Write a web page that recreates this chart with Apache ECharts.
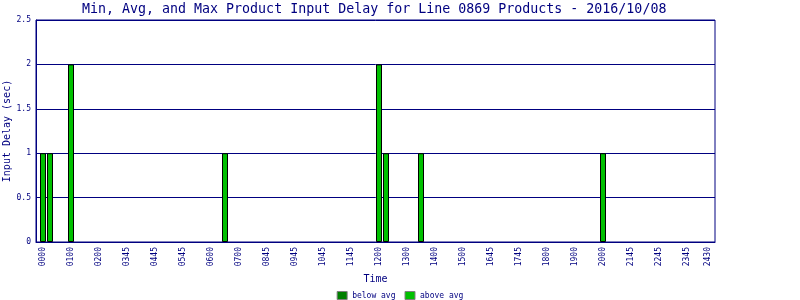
<!DOCTYPE html>
<html>
<head>
<meta charset="utf-8">
<script src="https://cdn.jsdelivr.net/npm/echarts@6/dist/echarts.min.js"></script>
<style>html,body{margin:0;padding:0;background:#fff}#c{width:800px;height:300px}</style>
</head>
<body>
<div id="c"></div>
<script>
// 96 fifteen-minute slots, index 0..95
const slotCount = 96;
// tick labels and the slot each one sits on
const tickLabels = ['0000','0100','0200','0345','0445','0545','0600','0700','0845','0945','1045','1145','1200','1300','1400','1500','1645','1745','1800','1900','2000','2145','2245','2345','2430'];
const tickSlots = [0,4,8,12,16,20,24,28,32,36,40,44,48,52,56,60,64,68,72,76,80,84,88,92,95];
// bars: slot index and delay (sec)
const aboveAvgSlots = [0,1,4,26,48,49,54,80];
const aboveAvgValues = [1,1,2,1,2,1,1,1];
const belowAvgSlots = [];
const belowAvgValues = [];
const yTicks = [0,0.5,1,1.5,2,2.5];

// category axis: one empty padding category each side
const cats = ['<pad0>'];
for (let i = 0; i < slotCount; i++) {
  const t = tickSlots.indexOf(i);
  cats.push(t >= 0 ? tickLabels[t] : '#' + i);
}
cats.push('<pad1>');
function seriesData(slots, vals) {
  const d = new Array(cats.length).fill(null);
  slots.forEach((s, i) => { d[s + 1] = vals[i]; });
  return d;
}
const NAVY = '#000080';
const FONT = 'DejaVu Sans Mono';
const chart = echarts.init(document.getElementById('c'), null, {renderer: 'canvas'});
chart.setOption({
  animation: false,
  backgroundColor: '#fff',
  title: {
    text: 'Min, Avg, and Max Product Input Delay for Line 0869 Products - 2016/10/08',
    left: 82, top: 3, padding: 0,
    textStyle: {color: NAVY, fontFamily: FONT, fontSize: 13.3, fontWeight: 'normal'}
  },
  legend: {
    top: 286, left: 'center',
    itemWidth: 10, itemHeight: 8, itemGap: 9,
    icon: 'rect',
    itemStyle: {borderColor: '#808080', borderWidth: 1},
    textStyle: {color: NAVY, fontFamily: FONT, fontSize: 8},
    data: ['below avg', 'above avg']
  },
  grid: {left: 36, right: 85, top: 20, bottom: 58, show: true, borderColor: NAVY, borderWidth: 1, backgroundColor: '#fff', containLabel: false, outerBoundsMode: 'none'},
  xAxis: {
    type: 'category', data: cats, boundaryGap: false,
    name: 'Time', nameLocation: 'middle', nameGap: 32, nameMoveOverlap: false,
    nameTextStyle: {color: NAVY, fontFamily: FONT, fontSize: 10},
    axisLine: {lineStyle: {color: NAVY}},
    axisTick: {show: false},
    splitLine: {show: false},
    axisLabel: {
      rotate: 90, margin: 5, color: NAVY, fontFamily: FONT, fontSize: 8,
      interval: (idx, val) => tickLabels.indexOf(val) >= 0,
      formatter: v => tickLabels.indexOf(v) >= 0 ? v : ''
    }
  },
  yAxis: {
    type: 'value', min: yTicks[0], max: yTicks[yTicks.length - 1], interval: 0.5,
    name: 'Input Delay (sec)', nameLocation: 'middle', nameGap: 24, nameMoveOverlap: false,
    nameTextStyle: {color: NAVY, fontFamily: FONT, fontSize: 10},
    axisLine: {show: true, lineStyle: {color: NAVY}},
    axisTick: {show: false},
    splitLine: {lineStyle: {color: NAVY, width: 1}},
    axisLabel: {color: NAVY, fontFamily: FONT, fontSize: 8, margin: 5}
  },
  series: [
    {name: 'below avg', type: 'bar', stack: 's', barWidth: 6, data: seriesData(belowAvgSlots, belowAvgValues),
     itemStyle: {color: '#008000', borderColor: '#000', borderWidth: 1}},
    {name: 'above avg', type: 'bar', stack: 's', barWidth: 6, data: seriesData(aboveAvgSlots, aboveAvgValues),
     itemStyle: {color: '#00C000', borderColor: '#000', borderWidth: 1}}
  ]
});
</script>
</body>
</html>
